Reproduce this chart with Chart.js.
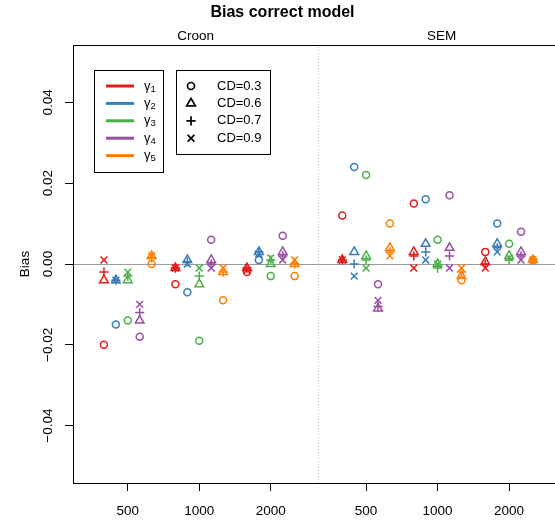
<!DOCTYPE html>
<html>
<head>
<meta charset="utf-8">
<script src="https://cdn.jsdelivr.net/npm/chart.js@4.4.1/dist/chart.umd.min.js"></script>
<style>
    html, body { margin: 0; padding: 0; background: #fff; overflow: hidden; }
    #wrap { width: 575px; height: 520px; }
</style>
</head>
<body>
<div id="wrap"><canvas id="biasChart" width="575" height="520"></canvas></div>
<script>
const methods = ['Croon', 'SEM'];
const sampleSizes = ['500', '1000', '2000'];
const gammaSubs = ['1', '2', '3', '4', '5'];
const cdLabels = ['CD=0.3', 'CD=0.6', 'CD=0.7', 'CD=0.9'];
const yTickValues = [-0.04, -0.02, 0, 0.02, 0.04];

// one row per gamma, columns: Croon 500, 1000, 2000, SEM 500, 1000, 2000
const biasCD03 = [
    [-0.020, -0.005, -0.002, 0.012, 0.015, 0.003],
    [-0.015, -0.007, 0.001, 0.024, 0.016, 0.010],
    [-0.014, -0.019, -0.003, 0.022, 0.006, 0.005],
    [-0.018, 0.006, 0.007, -0.005, 0.017, 0.008],
    [0.000, -0.009, -0.003, 0.010, -0.004, 0.001]
];
const biasCD06 = [
    [-0.004, -0.001, -0.001, 0.001, 0.003, 0.0005],
    [-0.004, 0.001, 0.003, 0.003, 0.005, 0.005],
    [-0.004, -0.005, 0.000, 0.002, 0.000, 0.002],
    [-0.014, 0.001, 0.003, -0.011, 0.004, 0.003],
    [0.002, -0.002, 0.000, 0.004, -0.003, 0.001]
];
const biasCD07 = [
    [-0.002, -0.001, -0.001, 0.001, 0.002, 0.000],
    [-0.004, 0.0005, 0.003, 0.000, 0.003, 0.004],
    [-0.003, -0.003, 0.001, 0.001, -0.001, 0.001],
    [-0.012, 0.000, 0.002, -0.0105, 0.002, 0.002],
    [0.0015, -0.002, 0.000, 0.003, -0.002, 0.001]
];
const biasCD09 = [
    [0.001, -0.001, -0.0015, 0.001, -0.001, -0.001],
    [-0.004, 0.000, 0.0025, -0.003, 0.001, 0.003],
    [-0.002, -0.001, 0.0015, -0.001, 0.000, 0.0015],
    [-0.010, -0.001, 0.001, -0.009, -0.001, 0.001],
    [0.002, -0.001, 0.001, 0.002, -0.001, 0.001]
];

const gammaColors = ['#E41A1C', '#377EB8', '#4DAF4A', '#984EA3', '#FF7F00'];
const cdStyles = [
    { pointStyle: 'circle', radius: 3.5 },
    { pointStyle: 'triangle', radius: 5 },
    { pointStyle: 'cross', radius: 4.6 },
    { pointStyle: 'crossRot', radius: 4.8 }
];
const FONT = "'Liberation Sans', Arial, Helvetica, sans-serif";

// x layout: sample sizes 1 unit apart, a third more between methods, gammas dodged
const groupGap = 1 / 3;
const dodge = 1 / 6;
function groupX(col) {
    const m = Math.floor(col / sampleSizes.length);
    const k = col % sampleSizes.length;
    return 1 + k + m * (sampleSizes.length + groupGap);
}
const nCols = methods.length * sampleSizes.length;
const xMin = 0.234, xMax = 7.115;
const yMin = -0.0542, yMax = 0.0542;
const separatorX = (groupX(sampleSizes.length - 1) + groupX(sampleSizes.length)) / 2;

const datasets = [];
[biasCD03, biasCD06, biasCD07, biasCD09].forEach((rows, c) => {
    rows.forEach((vals, g) => {
        datasets.push({
            label: 'g' + gammaSubs[g] + ' ' + cdLabels[c],
            data: vals.map((v, i) => ({ x: groupX(i) + (g - 2) * dodge, y: v })),
            pointStyle: cdStyles[c].pointStyle,
            pointRadius: cdStyles[c].radius,
            pointBorderWidth: 1.5,
            borderColor: gammaColors[g],
            backgroundColor: 'rgba(0,0,0,0)',
            showLine: false
        });
    });
});
// dotted divider between the two methods
datasets.push({
    label: 'divider',
    data: [{ x: separatorX, y: yMin }, { x: separatorX, y: yMax }],
    showLine: true,
    borderColor: '#c8c8c8',
    borderWidth: 1,
    borderDash: [1, 2],
    pointRadius: 0
});

const legendBoxes = {
    id: 'legendBoxes',
    afterDraw(chart) {
        const ctx = chart.ctx;
        const a = chart.chartArea;
        const bx = Math.round(a.left) + 21, by = Math.round(a.top) + 25;
        const rowH = 17.4;
        ctx.save();
        ctx.strokeStyle = '#000';
        ctx.lineWidth = 1;
        ctx.strokeRect(bx + 0.5, by + 0.5, 69, 102);
        ctx.strokeRect(bx + 82.5, by + 0.5, 94, 84);

        ctx.textBaseline = 'middle';
        ctx.textAlign = 'left';
        gammaSubs.forEach((s, i) => {
            const y = by + 16 + i * rowH;
            ctx.strokeStyle = gammaColors[i];
            ctx.lineWidth = 3;
            ctx.beginPath();
            ctx.moveTo(bx + 12, y);
            ctx.lineTo(bx + 40, y);
            ctx.stroke();
            ctx.fillStyle = '#000';
            ctx.font = '13px ' + FONT;
            ctx.fillText('γ', bx + 50, y);
            const w = ctx.measureText('γ').width;
            ctx.font = '9.5px ' + FONT;
            ctx.fillText(s, bx + 50 + w, y + 3);
        });

        cdLabels.forEach((lab, i) => {
            const y = by + 16 + i * rowH;
            ctx.strokeStyle = '#000';
            ctx.fillStyle = 'rgba(0,0,0,0)';
            ctx.lineWidth = 1.7;
            Chart.helpers.drawPoint(ctx, {
                pointStyle: cdStyles[i].pointStyle,
                radius: cdStyles[i].radius,
                borderWidth: 1.7
            }, bx + 97, y);
            ctx.fillStyle = '#000';
            ctx.font = '13px ' + FONT;
            ctx.fillText(lab, bx + 123, y);
        });
        ctx.restore();
    }
};

const ctx = document.getElementById('biasChart').getContext('2d');
new Chart(ctx, {
    type: 'scatter',
    data: { datasets: datasets },
    options: {
        responsive: false,
        animation: false,
        events: [],
        devicePixelRatio: 1,
        layout: { padding: { left: 0, right: 10, top: 0, bottom: 0 } },
        scales: {
            x: {
                type: 'linear',
                position: 'bottom',
                min: xMin,
                max: xMax,
                afterBuildTicks: scale => {
                    scale.ticks = Array.from({ length: nCols }, (_, i) => ({ value: groupX(i) }));
                },
                afterFit: scale => { scale.height = 37; },
                ticks: {
                    callback: (v, i) => sampleSizes[i % sampleSizes.length],
                    color: '#000',
                    font: { family: FONT, size: 13.5 },
                    padding: 12,
                    maxRotation: 0,
                    autoSkip: false
                },
                grid: { drawOnChartArea: false, drawTicks: true, tickLength: 8, color: '#000' },
                border: { display: true, color: '#000', width: 1 }
            },
            x2: {
                type: 'linear',
                position: 'top',
                min: xMin,
                max: xMax,
                afterBuildTicks: scale => {
                    scale.ticks = [
                        { value: (xMin + separatorX) / 2 },
                        { value: (separatorX + xMax) / 2 }
                    ];
                },
                afterFit: scale => { scale.height = 22.8; },
                ticks: {
                    callback: (v, i) => methods[i],
                    color: '#000',
                    font: { family: FONT, size: 13.5 },
                    padding: 1,
                    maxRotation: 0,
                    autoSkip: false
                },
                grid: { display: false, drawTicks: false },
                border: { display: true, color: '#000', width: 1 }
            },
            y: {
                type: 'linear',
                min: yMin,
                max: yMax,
                afterBuildTicks: scale => {
                    scale.ticks = yTickValues.map(v => ({ value: v }));
                },
                afterFit: scale => { scale.width = 73; },
                ticks: {
                    callback: v => v.toFixed(2).replace('-', '\u2212'),
                    color: '#000',
                    font: { family: FONT, size: 13.5 },
                    minRotation: 90,
                    maxRotation: 90,
                    crossAlign: 'center',
                    padding: 0
                },
                grid: {
                    color: c => (c.tick && c.tick.value === 0 ? '#9a9a9a' : 'rgba(0,0,0,0)'),
                    tickColor: '#000',
                    tickLength: 8,
                    drawTicks: true
                },
                border: { display: true, color: '#000', width: 1 },
                title: {
                    display: true,
                    text: 'Bias',
                    color: '#000',
                    font: { family: FONT, size: 13.5 },
                    padding: { top: 17, bottom: 0 }
                }
            }
        },
        plugins: {
            legend: { display: false },
            tooltip: { enabled: false },
            title: {
                display: true,
                text: 'Bias correct model',
                color: '#000',
                font: { family: FONT, size: 16, weight: 'bold' },
                padding: { top: 3, bottom: 0 }
            }
        }
    },
    plugins: [legendBoxes]
});
</script>
</body>
</html>
